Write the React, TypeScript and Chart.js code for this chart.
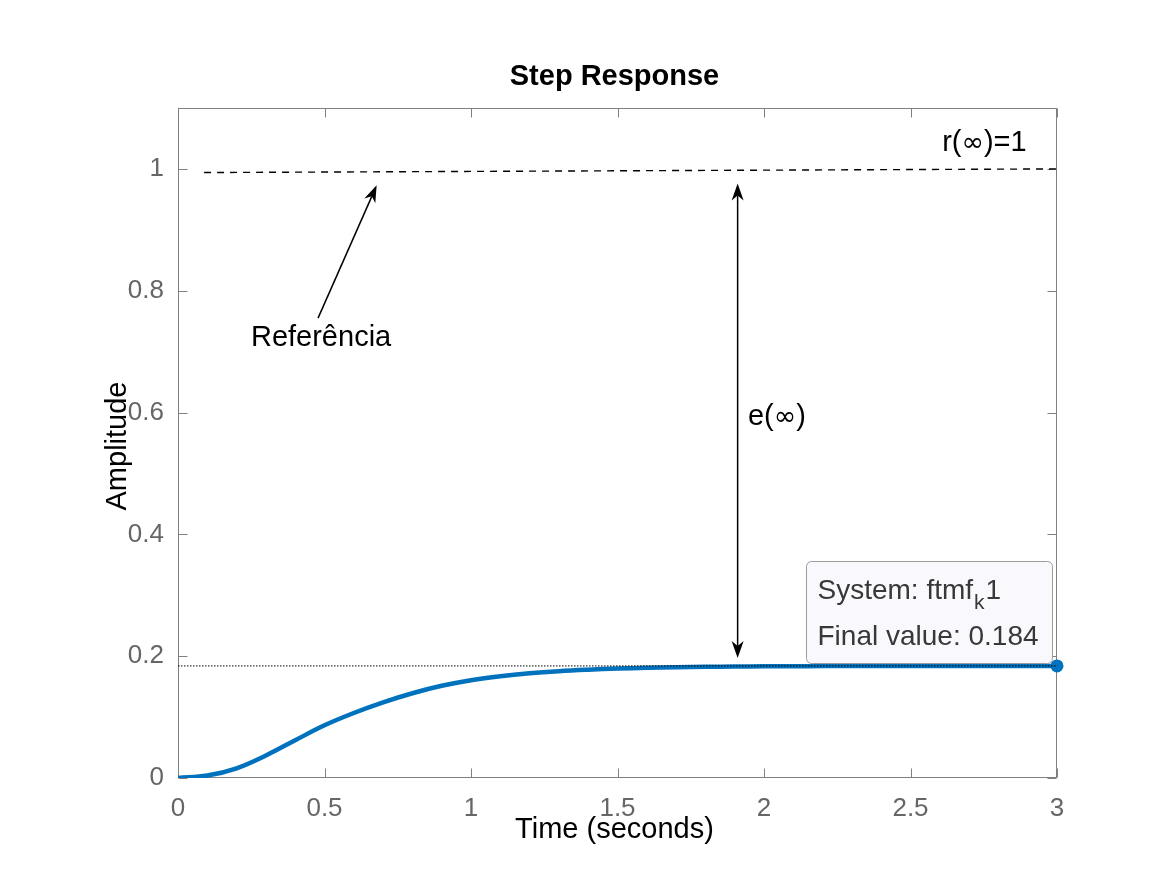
import React, { useEffect, useRef } from "react";
import { Chart, registerables } from "chart.js";

Chart.register(...registerables);

// ---- data ----
const timeValues = [
  0, 0.1, 0.2, 0.3, 0.4, 0.5, 0.6, 0.7, 0.8, 0.9, 1.0, 1.1, 1.2, 1.3, 1.4, 1.5,
  1.6, 1.7, 1.8, 1.9, 2.0, 2.1, 2.2, 2.3, 2.4, 2.5, 2.6, 2.7, 2.8, 2.9, 3.0,
];
const amplitudeValues = [
  0, 0.004, 0.016, 0.037, 0.062, 0.0865, 0.1067, 0.1242, 0.1392, 0.1514, 0.1606,
  0.1672, 0.172, 0.1754, 0.1778, 0.1796, 0.1809, 0.1818, 0.1825, 0.1829, 0.1833,
  0.1835, 0.1837, 0.1838, 0.1839, 0.184, 0.184, 0.184, 0.184, 0.184, 0.184,
];
const finalTime = [3];
const finalValue = [0.184];
const referenceTime = [0.089, 3];
const referenceValue = [0.994, 1.0];
const finalLineTime = [0, 3];
const finalLineValue = [0.184, 0.184];

const xTickValues = [0, 0.5, 1, 1.5, 2, 2.5, 3];
const xTickLabels = ["0", "0.5", "1", "1.5", "2", "2.5", "3"];
const yTickValues = [0, 0.2, 0.4, 0.6, 0.8, 1];
const yTickLabels = ["0", "0.2", "0.4", "0.6", "0.8", "1"];

const titleText = "Step Response";
const xAxisTitle = "Time (seconds)";
const yAxisTitle = "Amplitude";
const referenceLabel = "Referência";
const errorLabel = "e(∞)";
const rInfLabel = "r(∞)=1";
const tipLine1Main = "System: ftmf";
const tipLine1Sub = "k";
const tipLine1End = "1";
const tipLine2 = "Final value: 0.184";

// ---- annotation anchors (data coordinates) ----
const refArrowFrom = [0.478, 0.755];
const refArrowTo = [0.678, 0.973];
const errArrowX = 1.91;
const errArrowTop = 0.976;
const errArrowBottom = 0.197;
const referenceLabelPos = [0.249, 0.723];
const errorLabelPos = [1.945, 0.592];
const rInfLabelPos = [2.608, 1.043];
const tipBoxFrom = [2.143, 0.356];
const tipBoxTo = [2.983, 0.189];

const FONT = '"Liberation Sans", Arial, Helvetica, sans-serif';
const SYMFONT = '"DejaVu Sans", sans-serif';
const FS_TICK = 26;
const FS = 29;
const BLUE = "#0072BD";
const AXIS = "#808080";

function arrowHead(ctx: CanvasRenderingContext2D, tx: number, ty: number, fx: number, fy: number) {
  const dx = tx - fx;
  const dy = ty - fy;
  const len = Math.hypot(dx, dy);
  const ux = dx / len;
  const uy = dy / len;
  const px = -uy;
  const py = ux;
  const L = 17;
  const W = 6;
  ctx.beginPath();
  ctx.moveTo(tx, ty);
  ctx.lineTo(tx - L * ux + W * px, ty - L * uy + W * py);
  ctx.lineTo(tx - 0.7 * L * ux, ty - 0.7 * L * uy);
  ctx.lineTo(tx - L * ux - W * px, ty - L * uy - W * py);
  ctx.closePath();
  ctx.fill();
}

// draws text, rendering the infinity sign with a wider symbol font
function mixedText(ctx: CanvasRenderingContext2D, text: string, x: number, y: number, size: number) {
  let cx = x;
  for (const part of text.split(/(∞)/)) {
    if (!part) continue;
    ctx.font = part === "∞" ? `${size - 2}px ${SYMFONT}` : `${size}px ${FONT}`;
    ctx.fillText(part, cx, y + (part === "∞" ? 1 : 0));
    cx += ctx.measureText(part).width;
  }
}

const decorPlugin = {
  id: "matlabDecor",
  beforeDatasetsDraw(chart: any) {
    const { ctx, chartArea: a, scales } = chart;
    const x = scales.x;
    const y = scales.y;
    ctx.save();
    ctx.strokeStyle = AXIS;
    ctx.lineWidth = 1;
    const l = Math.round(a.left) + 0.5;
    const r = Math.round(a.right) - 0.5;
    const t = Math.round(a.top) + 0.5;
    const b = Math.round(a.bottom) - 0.5;
    ctx.strokeRect(l, t, r - l, b - t);
    const tl = 9;
    ctx.beginPath();
    for (const v of xTickValues) {
      const px = Math.round(x.getPixelForValue(v)) + 0.5;
      ctx.moveTo(px, b);
      ctx.lineTo(px, b - tl);
      ctx.moveTo(px, t);
      ctx.lineTo(px, t + tl);
    }
    for (const v of yTickValues) {
      const py = Math.round(y.getPixelForValue(v)) + 0.5;
      ctx.moveTo(l, py);
      ctx.lineTo(l + tl, py);
      ctx.moveTo(r, py);
      ctx.lineTo(r - tl, py);
    }
    ctx.stroke();
    ctx.restore();
  },
  afterDatasetsDraw(chart: any) {
    const { ctx, chartArea: a, scales } = chart;
    const x = scales.x;
    const y = scales.y;
    const X = (v: number) => x.getPixelForValue(v);
    const Y = (v: number) => y.getPixelForValue(v);
    ctx.save();

    // Title and axis titles
    const cx = (a.left + a.right) / 2;
    ctx.fillStyle = "#000";
    ctx.textAlign = "center";
    ctx.textBaseline = "middle";
    ctx.font = `bold ${FS}px ${FONT}`;
    ctx.fillText(titleText, cx - 3, 77);
    ctx.font = `${FS}px ${FONT}`;
    ctx.fillText(xAxisTitle, cx - 3, 830);
    ctx.save();
    ctx.translate(118, (a.top + a.bottom) / 2 + 3);
    ctx.rotate(-Math.PI / 2);
    ctx.fillText(yAxisTitle, 0, 0);
    ctx.restore();

    // Reference arrow
    ctx.strokeStyle = "#000";
    ctx.fillStyle = "#000";
    ctx.lineWidth = 1.5;
    {
      const fx = X(refArrowFrom[0]);
      const fy = Y(refArrowFrom[1]);
      const tx = X(refArrowTo[0]);
      const ty = Y(refArrowTo[1]);
      const len = Math.hypot(tx - fx, ty - fy);
      const ux = (tx - fx) / len;
      const uy = (ty - fy) / len;
      ctx.beginPath();
      ctx.moveTo(fx, fy);
      ctx.lineTo(tx - 12 * ux, ty - 12 * uy);
      ctx.stroke();
      arrowHead(ctx, tx, ty, fx, fy);
    }
    // Error double arrow
    {
      const ex = X(errArrowX);
      const ty = Y(errArrowTop);
      const by = Y(errArrowBottom);
      ctx.beginPath();
      ctx.moveTo(ex, ty + 12);
      ctx.lineTo(ex, by - 12);
      ctx.stroke();
      arrowHead(ctx, ex, ty, ex, by);
      arrowHead(ctx, ex, by, ex, ty);
    }

    // Text annotations
    ctx.fillStyle = "#000";
    ctx.textAlign = "left";
    ctx.textBaseline = "middle";
    mixedText(ctx, referenceLabel, X(referenceLabelPos[0]), Y(referenceLabelPos[1]), FS);
    mixedText(ctx, errorLabel, X(errorLabelPos[0]), Y(errorLabelPos[1]), FS);
    mixedText(ctx, rInfLabel, X(rInfLabelPos[0]), Y(rInfLabelPos[1]), FS);

    // Data tip
    const bx0 = Math.round(X(tipBoxFrom[0])) + 0.5;
    const by0 = Math.round(Y(tipBoxFrom[1])) + 0.5;
    const bx1 = Math.round(X(tipBoxTo[0])) + 0.5;
    const by1 = Math.round(Y(tipBoxTo[1])) + 0.5;
    const rr = 5;
    ctx.beginPath();
    ctx.moveTo(bx0 + rr, by0);
    ctx.lineTo(bx1 - rr, by0);
    ctx.arcTo(bx1, by0, bx1, by0 + rr, rr);
    ctx.lineTo(bx1, by1 - rr);
    ctx.arcTo(bx1, by1, bx1 - rr, by1, rr);
    ctx.lineTo(bx0 + rr, by1);
    ctx.arcTo(bx0, by1, bx0, by1 - rr, rr);
    ctx.lineTo(bx0, by0 + rr);
    ctx.arcTo(bx0, by0, bx0 + rr, by0, rr);
    ctx.closePath();
    ctx.fillStyle = "#f8f8fd";
    ctx.fill();
    ctx.strokeStyle = "#9c9c9c";
    ctx.lineWidth = 1;
    ctx.stroke();

    const tipFS = 28;
    ctx.fillStyle = "#383838";
    ctx.font = `${tipFS}px ${FONT}`;
    const tx0 = bx0 + 11;
    const line1Y = by0 + 30;
    ctx.fillText(tipLine1Main, tx0, line1Y);
    const w1 = ctx.measureText(tipLine1Main).width;
    ctx.font = `${Math.round(tipFS * 0.75)}px ${FONT}`;
    ctx.fillText(tipLine1Sub, tx0 + w1 + 1, line1Y + 12);
    const w2 = ctx.measureText(tipLine1Sub).width;
    ctx.font = `${tipFS}px ${FONT}`;
    ctx.fillText(tipLine1End, tx0 + w1 + w2 + 2, line1Y);
    ctx.fillText(tipLine2, tx0, by0 + 76);

    ctx.restore();
  },
};

export default function App() {
  const canvasRef = useRef<HTMLCanvasElement | null>(null);

  useEffect(() => {
    const canvas = canvasRef.current;
    if (!canvas) return;
    const toPoints = (xs: number[], ys: number[]) => xs.map((v, i) => ({ x: v, y: ys[i] }));
    const chart = new Chart(canvas, {
      type: "line",
      data: {
        datasets: [
          {
            label: "Referência",
            data: toPoints(referenceTime, referenceValue),
            borderColor: "#000",
            borderWidth: 1.4,
            borderDash: [7, 6],
            pointRadius: 0,
            fill: false,
          },
          {
            label: "Final value line",
            data: toPoints(finalLineTime, finalLineValue),
            borderColor: "#000",
            borderWidth: 1,
            borderDash: [1.5, 1.5],
            pointRadius: 0,
            fill: false,
          },
          {
            label: "ftmf_k1",
            data: toPoints(timeValues, amplitudeValues),
            borderColor: BLUE,
            borderWidth: 4.5,
            pointRadius: 0,
            tension: 0.4,
            capBezierPoints: true,
            fill: false,
          },
          {
            label: "Final value",
            data: toPoints(finalTime, finalValue),
            borderColor: BLUE,
            backgroundColor: BLUE,
            pointRadius: 6.5,
            pointBorderWidth: 0,
            showLine: false,
            clip: false,
          },
        ],
      },
      options: {
        animation: false,
        responsive: false,
        devicePixelRatio: 1,
        layout: { padding: { top: 108, right: 110, left: 0, bottom: 0 } },
        plugins: {
          legend: { display: false },
          tooltip: { enabled: false },
          title: { display: false },
        },
        scales: {
          x: {
            type: "linear",
            min: 0,
            max: 3,
            grid: { display: false, drawTicks: false },
            border: { display: false },
            afterBuildTicks: (scale: any) => {
              scale.ticks = xTickValues.map((v) => ({ value: v }));
            },
            afterFit: (scale: any) => {
              scale.height = 97;
            },
            ticks: {
              color: "#666666",
              font: { family: FONT, size: FS_TICK },
              padding: 15,
              maxRotation: 0,
              callback: (v: any) => xTickLabels[xTickValues.indexOf(Number(v))] ?? "",
            },
          },
          y: {
            type: "linear",
            min: 0,
            max: 1.1,
            grid: { display: false, drawTicks: false },
            border: { display: false },
            afterBuildTicks: (scale: any) => {
              scale.ticks = yTickValues.map((v) => ({ value: v }));
            },
            afterFit: (scale: any) => {
              scale.width = 178;
            },
            ticks: {
              color: "#666666",
              font: { family: FONT, size: FS_TICK },
              padding: 14,
              callback: (v: any) => yTickLabels[yTickValues.indexOf(Number(v))] ?? "",
            },
          },
        },
      },
      plugins: [decorPlugin],
    } as any);
    return () => chart.destroy();
  }, []);

  return (
    <div style={{ position: "absolute", left: 0, top: 0, width: 1167, height: 875, background: "#fff" }}>
      <canvas ref={canvasRef} width={1167} height={875} style={{ display: "block" }} />
    </div>
  );
}
